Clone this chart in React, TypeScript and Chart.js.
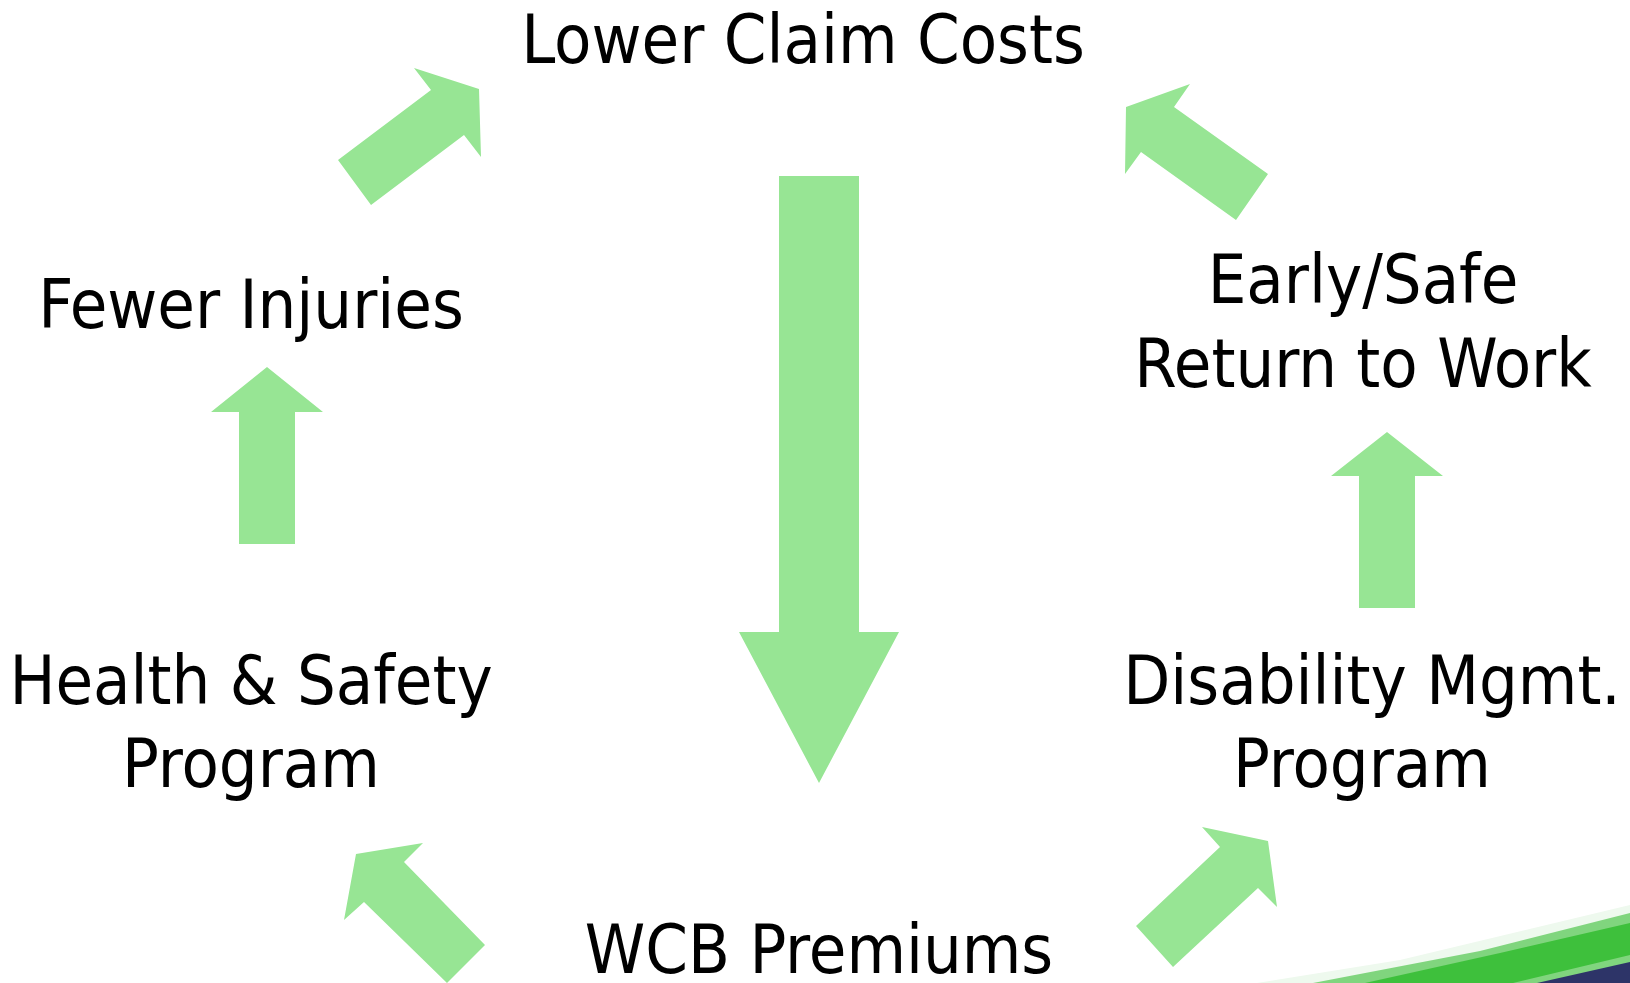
import React, { useEffect, useRef } from "react";
import { Chart, registerables } from "chart.js";

Chart.register(...registerables);

// ---- Data (diagram coordinates, x: 0..1630, y: 0..983 top-down) ----
const labelTexts = [
  "Lower Claim Costs",
  "Fewer Injuries",
  "Early/Safe",
  "Return to Work",
  "Health & Safety",
  "Program",
  "Disability Mgmt.",
  "Program",
  "WCB Premiums",
];
const labelX = [803, 251, 1363, 1363, 251, 251, 1372, 1362, 819];
const labelY = [63, 328, 303, 387, 704, 787, 704, 787, 973];

const arrowTopLeft = [[338, 160], [431, 90], [414, 68], [479, 89], [481, 157], [464, 135], [371, 205]];
const arrowTopRight = [[1268, 174], [1174, 107], [1190, 84], [1126, 107], [1125, 174], [1141, 152], [1236, 220]];
const arrowLeftUp = [[239, 544], [239, 412], [211, 412], [267, 367], [323, 412], [295, 412], [295, 544]];
const arrowRightUp = [[1359, 608], [1359, 476], [1331, 476], [1387, 432], [1443, 476], [1415, 476], [1415, 608]];
const arrowCenterDown = [[779, 176], [859, 176], [859, 632], [899, 632], [819, 783], [739, 632], [779, 632]];
const arrowBottomLeft = [[485, 945], [404, 862], [423, 843], [356, 854], [344, 920], [364, 902], [447, 983]];
const arrowBottomRight = [[1136, 926], [1220, 847], [1202, 827], [1268, 841], [1277, 907], [1258, 888], [1173, 967]];
const arrows = [arrowTopLeft, arrowTopRight, arrowLeftUp, arrowRightUp, arrowCenterDown, arrowBottomLeft, arrowBottomRight];

const swooshFaint = [[1257, 983], [1400, 960], [1630, 905], [1630, 983]];
const swooshLight = [[1313, 983], [1480, 951], [1630, 913], [1630, 983]];
const swooshDark = [[1365, 983], [1500, 953], [1630, 923], [1630, 955], [1513, 983]];
const swooshNavy = [[1537, 983], [1630, 962], [1630, 983]];
const swooshBands = [swooshFaint, swooshLight, swooshDark, swooshNavy];
const swooshColors = ["#EEF9EE", "#80D57E", "#3EC03C", "#2D3468"];

const arrowColor = "#97E594";
const textFont = '68px "DejaVu Sans Condensed", "DejaVu Sans", Tahoma, sans-serif';

const diagramPlugin = {
  id: "diagram",
  afterDatasetsDraw(chart: any) {
    const ctx = chart.ctx;
    const xs = chart.scales.x;
    const ys = chart.scales.y;
    const poly = (pts: number[][], color: string) => {
      ctx.beginPath();
      pts.forEach((p, i) => {
        const px = xs.getPixelForValue(p[0]);
        const py = ys.getPixelForValue(p[1]);
        if (i === 0) ctx.moveTo(px, py);
        else ctx.lineTo(px, py);
      });
      ctx.closePath();
      ctx.fillStyle = color;
      ctx.fill();
    };
    ctx.save();
    swooshBands.forEach((b, i) => poly(b, swooshColors[i]));
    arrows.forEach((a) => poly(a, arrowColor));
    ctx.font = textFont;
    ctx.fillStyle = "#000000";
    ctx.textAlign = "center";
    ctx.textBaseline = "alphabetic";
    const meta = chart.getDatasetMeta(0);
    meta.data.forEach((pt: any, i: number) => {
      ctx.fillText(labelTexts[i], pt.x, pt.y);
    });
    ctx.restore();
  },
};

export default function App() {
  const canvasRef = useRef<HTMLCanvasElement | null>(null);

  useEffect(() => {
    document.body.style.margin = "0";
    document.body.style.overflow = "hidden";
    const canvas = canvasRef.current;
    if (!canvas) return;
    const chart = new Chart(canvas, {
      type: "scatter",
      data: {
        datasets: [
          {
            label: "labels",
            data: labelX.map((x, i) => ({ x, y: labelY[i] })),
            pointRadius: 0,
            pointHoverRadius: 0,
          },
        ],
      },
      options: {
        animation: false,
        responsive: true,
        maintainAspectRatio: false,
        layout: { padding: 0 },
        events: [],
        plugins: {
          legend: { display: false },
          tooltip: { enabled: false },
          title: { display: false },
        },
        scales: {
          x: { type: "linear", min: 0, max: 1630, display: false },
          y: { type: "linear", min: 0, max: 983, reverse: true, display: false },
        },
      },
      plugins: [diagramPlugin],
    });
    return () => chart.destroy();
  }, []);

  return (
    <div style={{ width: "1630px", height: "983px", position: "relative", background: "#ffffff" }}>
      <canvas ref={canvasRef} />
    </div>
  );
}
